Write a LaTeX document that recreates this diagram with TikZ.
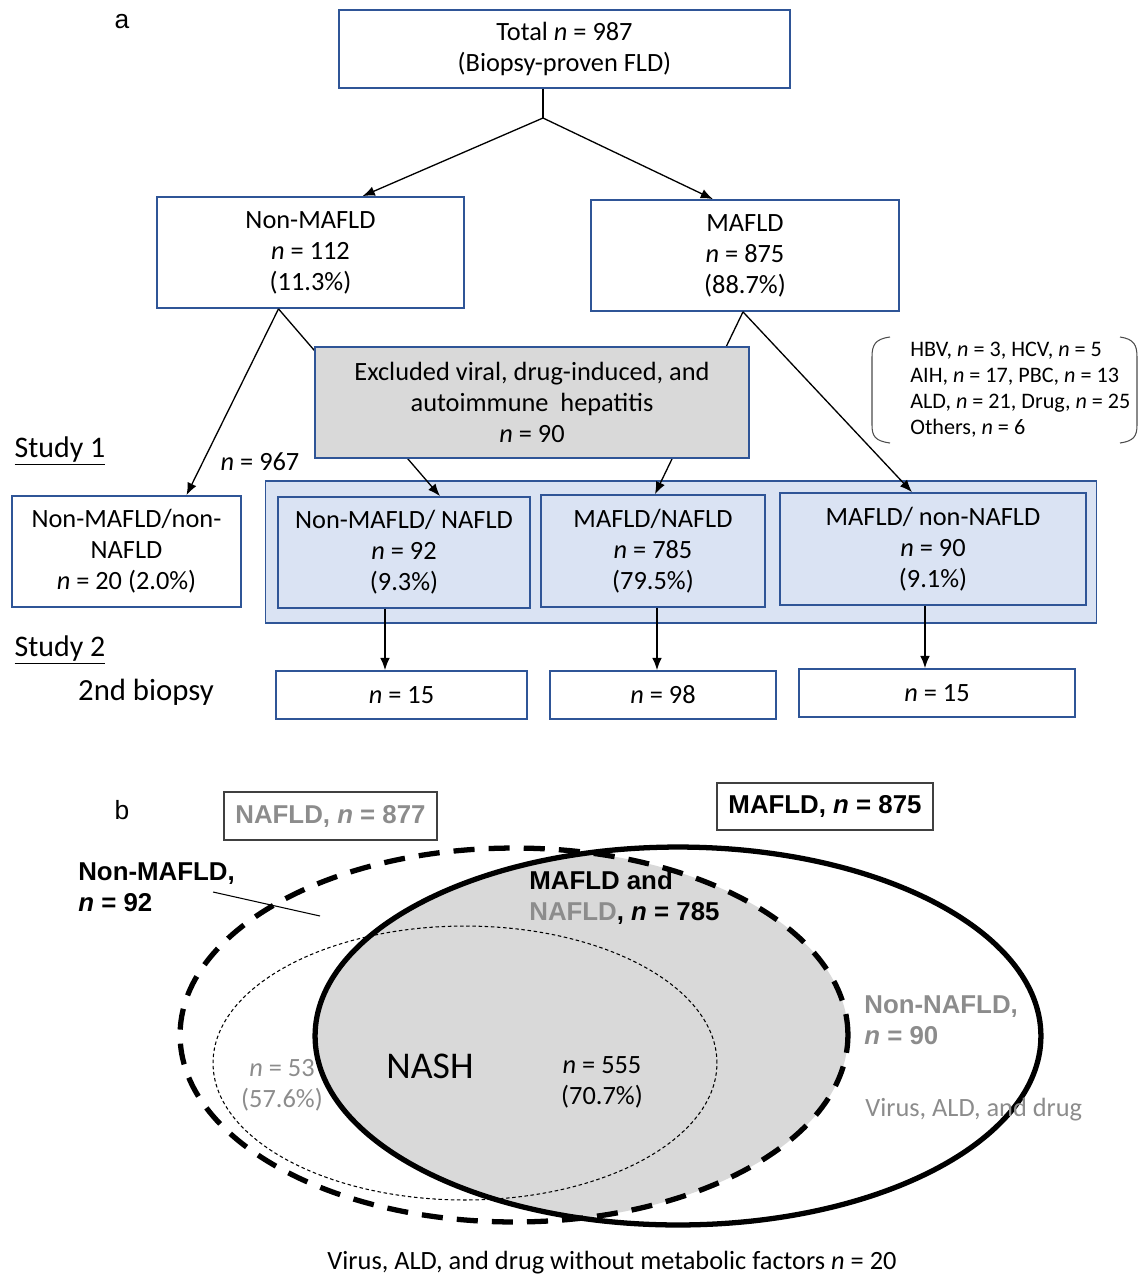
\documentclass[tikz,border=0pt]{standalone}
\usepackage{fontspec}
\setmainfont{Carlito}
\newfontfamily\arialfont{Liberation Sans}
\usepackage{tikz}
\usetikzlibrary{shapes,arrows,arrows.meta}
\usetikzlibrary{positioning,calc}
\definecolor{boxblue}{HTML}{2F5597}
\definecolor{paleblue}{HTML}{DAE3F3}
\definecolor{greybox}{HTML}{D9D9D9}
\definecolor{greytext}{HTML}{8C8C8C}
\newcommand{\nvar}{\textit{n}}
\newcommand{\flowfont}{\fontsize{15}{17.6}\selectfont}
\newcommand{\vennfont}{\arialfont\bfseries\fontsize{14.7}{17.6}\selectfont}
\tikzstyle{block} = [rectangle, draw=boxblue, line width=1pt, fill=white,
    align=center, inner sep=0pt, font=\flowfont]
\tikzstyle{shaded} = [block, fill=paleblue]
\tikzstyle{excluded} = [block, fill=greybox]
\tikzstyle{tag} = [inner sep=0pt, align=left, font=\flowfont]
\tikzstyle{venntag} = [inner sep=0pt, align=left, font=\vennfont]
\tikzstyle{countbox} = [rectangle, draw=black!75, line width=0.8pt,
    inner sep=0pt, font=\vennfont]
\tikzstyle{arrow} = [line width=0.75pt,-{Latex[length=7pt,width=5.5pt]}]

\begin{document}
\begin{tikzpicture}[x=0.02cm, y=-0.02cm]
    \useasboundingbox (0,0) rectangle (1139,1276);
    % Place nodes
    \node [tag, font=\arialfont\fontsize{15}{18}\selectfont] (parta) at (122,22) {a};
    \node [block, minimum width=9.02cm, minimum height=1.56cm] (total) at (564.5,49)
        {Total \nvar{} = 987\\(Biopsy-proven FLD)};
    \coordinate (split) at (543,118);
    \node [block, minimum width=6.14cm, minimum height=2.22cm] (nonmafld) at (310.5,252.5)
        {Non-MAFLD\\\nvar{} = 112\\(11.3\%)};
    \node [block, minimum width=6.16cm, minimum height=2.22cm] (mafld) at (745,255.5)
        {MAFLD\\\nvar{} = 875\\(88.7\%)};
    \node [shaded, minimum width=16.64cm, minimum height=2.84cm, line width=0.6pt] (study1) at (681,552) {};
    \node [block, minimum width=4.58cm, minimum height=2.22cm] (nonnafld) at (126.5,551.5)
        {Non-MAFLD/non-\\NAFLD\\\nvar{} = 20 (2.0\%)};
    \node [shaded, minimum width=5.04cm, minimum height=2.22cm] (mn) at (404,552.5)
        {Non-MAFLD/ NAFLD\\\nvar{} = 92\\(9.3\%)};
    \node [shaded, minimum width=4.48cm, minimum height=2.24cm] (mm) at (653,551)
        {MAFLD/NAFLD\\\nvar{} = 785\\(79.5\%)};
    \node [shaded, minimum width=6.12cm, minimum height=2.24cm] (mx) at (933,549)
        {MAFLD/ non-NAFLD\\\nvar{} = 90\\(9.1\%)};
    \node [block, minimum width=5.02cm, minimum height=0.96cm] (bx1) at (401.5,695) {\nvar{} = 15};
    \node [block, minimum width=4.52cm, minimum height=0.96cm] (bx2) at (663,695) {\nvar{} = 98};
    \node [block, minimum width=5.52cm, minimum height=0.96cm] (bx3) at (937,693) {\nvar{} = 15};
    \node [tag] (n967) at (260,462) {\nvar{} = 967};
    \node [tag, font=\fontsize{17}{20}\selectfont] (study1lbl) at (60,451) {\underline{Study 1}};
    \node [tag, font=\fontsize{17}{20}\selectfont] (study2lbl) at (60,650) {\underline{Study 2}};
    \node [tag, font=\fontsize{17.5}{20}\selectfont] (biopsy) at (146,692) {2nd biopsy};
    \node [tag, anchor=west, font=\fontsize{12.6}{14.8}\selectfont] (causes) at (910,390)
        {HBV, \nvar{} = 3, HCV, \nvar{} = 5\\AIH, \nvar{} = 17, PBC, \nvar{} = 13\\
         ALD, \nvar{} = 21, Drug, \nvar{} = 25\\Others, \nvar{} = 6};

    % Draw edges
    \draw [line width=0.75pt] (total.south -| split) -- (split);
    \draw [arrow] (split) -- ($(nonmafld.north)+(52,0)$);
    \draw [arrow] (split) -- ($(mafld.north)+(-32,0)$);
    \draw [arrow] ($(nonmafld.south)+(-32,0)$) -- ($(nonnafld.north)+(60,0)$);
    \draw [arrow] ($(nonmafld.south)+(-32,0)$) -- ($(mn.north)+(36,0)$);
    \draw [arrow] ($(mafld.south)+(-2,0)$) -- ($(mm.north)+(2,0)$);
    \draw [arrow] ($(mafld.south)+(-2,0)$) -- ($(mx.north)+(-21,0)$);
    \draw [arrow] ($(mn.south)+(-19,0)$) -- ($(bx1.north)+(-16.5,0)$);
    \draw [arrow] ($(mm.south)+(4,0)$) -- ($(bx2.north)+(-6,0)$);
    \draw [arrow] ($(mx.south)+(-8,0)$) -- ($(bx3.north)+(-12,0)$);
    % excluded box sits on top of the edges
    \node [excluded, minimum width=8.68cm, minimum height=2.22cm] (excl) at (532,402.5)
        {Excluded viral, drug-induced, and\\autoimmune~ hepatitis\\\nvar{} = 90};
    % brackets round the causes
    \draw [line width=0.6pt, black!70] (890,337) .. controls (875,339) and (872,345) .. (872,357)
        -- (872,425) .. controls (872,436) and (875,441) .. (890,443);
    \draw [line width=0.6pt, black!70] (1120,337) .. controls (1134,339) and (1137,345) .. (1137,357)
        -- (1137,425) .. controls (1137,436) and (1134,441) .. (1120,443);

    % Venn diagram
    \node [tag, font=\arialfont\fontsize{15}{18}\selectfont] (partb) at (122,810) {b};
    \begin{scope}
        \clip (514,1035) ellipse [x radius=6.68cm, y radius=3.74cm];
        \fill [greybox] (678,1036) ellipse [x radius=7.26cm, y radius=3.78cm];
    \end{scope}
    \draw [line width=0.6pt, dash pattern=on 2pt off 1.5pt] (465,1063) ellipse [x radius=5.04cm, y radius=2.74cm];
    \draw [line width=3pt] (678,1036) ellipse [x radius=7.26cm, y radius=3.78cm];
    \draw [line width=3pt, dash pattern=on 12pt off 8pt] (514,1035) ellipse [x radius=6.68cm, y radius=3.74cm];

    \node [countbox, minimum width=4.26cm, minimum height=0.96cm, text=greytext] (nafldbox) at (330.5,816)
        {NAFLD, \textit{n} = 877};
    \node [countbox, minimum width=4.32cm, minimum height=0.94cm] (mafldbox) at (825,806.5)
        {MAFLD, \textit{n} = 875};
    \node [venntag, anchor=west] (nonmafldlbl) at (78,887) {Non-MAFLD,\\\textit{n} = 92};
    \coordinate (nmpoint) at (320,916);
    \draw [line width=0.6pt] ($(nonmafldlbl.east)+(-22,5)$) -- (nmpoint);
    \node [venntag, anchor=west] (both) at (529,898)
        {MAFLD and\\{\color{greytext}NAFLD}, \textit{n} = 785};
    \node [venntag, anchor=west, text=greytext] (nonnafldlbl) at (864,1020)
        {Non-NAFLD,\\\textit{n} = 90};
    \node [tag, anchor=west, text=greytext] (virus) at (865,1110) {Virus, ALD, and drug};
    \node [tag, align=center, text=greytext] (nash53) at (282,1085) {\nvar{} = 53\\(57.6\%)};
    \node [tag, font=\fontsize{21.5}{24}\selectfont] (nash) at (430,1066) {NASH};
    \node [tag, align=center] (nash555) at (602,1082) {\nvar{} = 555\\(70.7\%)};
    \node [tag] (nometab) at (612,1263) {Virus, ALD, and drug without metabolic factors \nvar{} = 20};
\end{tikzpicture}
\end{document}
